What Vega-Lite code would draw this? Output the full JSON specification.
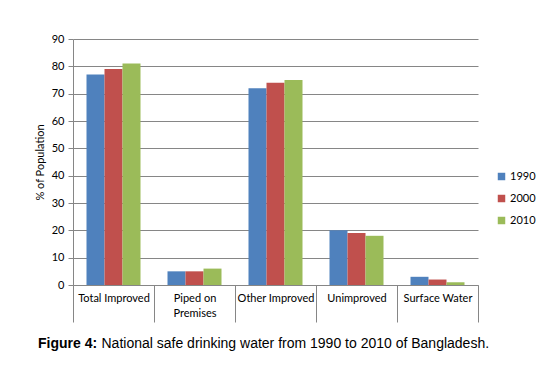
{
  "$schema": "https://vega.github.io/schema/vega-lite/v6.json",
  "autosize": "none",
  "width": 405,
  "height": 246,
  "padding": {"left": 73, "top": 39, "right": 80, "bottom": 91},
  "background": "white",
  "title": {
    "text": "Figure 4:",
    "orient": "bottom",
    "anchor": "start",
    "frame": "group",
    "font": "Liberation Sans",
    "fontSize": 14,
    "fontWeight": "bold",
    "color": "#000000",
    "baseline": "middle",
    "offset": 0,
    "dx": -35,
    "dy": -6
  },
  "data": {
    "values": [
      {"category": "Total Improved", "year": "1990", "value": 77},
      {"category": "Total Improved", "year": "2000", "value": 79},
      {"category": "Total Improved", "year": "2010", "value": 81},
      {"category": "Piped on Premises", "year": "1990", "value": 5},
      {"category": "Piped on Premises", "year": "2000", "value": 5},
      {"category": "Piped on Premises", "year": "2010", "value": 6},
      {"category": "Other Improved", "year": "1990", "value": 72},
      {"category": "Other Improved", "year": "2000", "value": 74},
      {"category": "Other Improved", "year": "2010", "value": 75},
      {"category": "Unimproved", "year": "1990", "value": 20},
      {"category": "Unimproved", "year": "2000", "value": 19},
      {"category": "Unimproved", "year": "2010", "value": 18},
      {"category": "Surface Water", "year": "1990", "value": 3},
      {"category": "Surface Water", "year": "2000", "value": 2},
      {"category": "Surface Water", "year": "2010", "value": 1}
    ]
  },
  "mark": {"type": "bar"},
  "encoding": {
    "x": {
      "field": "category",
      "type": "nominal",
      "sort": null,
      "scale": {"paddingInner": 0, "paddingOuter": 0},
      "axis": {
        "title": "National safe drinking water from 1990 to 2010 of Bangladesh.",
        "titleFont": "Liberation Sans",
        "titleFontSize": 14,
        "titleFontWeight": "normal",
        "titleColor": "#000000",
        "titleX": 28,
        "titleY": 58,
        "titleAlign": "left",
        "titleBaseline": "middle",
        "labelAngle": 0,
        "labelFont": "Lato",
        "labelFontSize": 11,
        "labelColor": "#000000",
        "labelPadding": -30,
        "labelExpr": "datum.label == 'Piped on Premises' ? ['Piped on', 'Premises'] : datum.label",
        "labelLineHeight": 15,
        "tickBand": "extent",
        "tickSize": 37,
        "tickColor": "#868686",
        "domainColor": "#868686",
        "grid": false
      }
    },
    "xOffset": {
      "field": "year",
      "type": "nominal",
      "scale": {"paddingInner": 0, "paddingOuter": 0.75}
    },
    "y": {
      "field": "value",
      "type": "quantitative",
      "scale": {"domain": [0, 90]},
      "axis": {
        "title": "% of Population",
        "titleFont": "Lato",
        "titleFontSize": 11,
        "titleFontWeight": "normal",
        "titleColor": "#000000",
        "titlePadding": 6,
        "values": [0, 10, 20, 30, 40, 50, 60, 70, 80, 90],
        "labelFont": "Lato",
        "labelFontSize": 11,
        "labelColor": "#000000",
        "labelPadding": 4,
        "tickSize": 5,
        "tickColor": "#868686",
        "domainColor": "#868686",
        "gridColor": "#868686",
        "gridWidth": 1
      }
    },
    "color": {
      "field": "year",
      "type": "nominal",
      "scale": {"domain": ["1990", "2000", "2010"], "range": ["#4F81BD", "#C0504D", "#9BBB59"]},
      "legend": {
        "title": null,
        "orient": "none",
        "legendX": 423,
        "legendY": 132,
        "padding": 0,
        "symbolType": "square",
        "symbolSize": 56,
        "symbolStrokeWidth": 0,
        "labelFont": "Lato",
        "labelFontSize": 11,
        "labelColor": "#000000",
        "labelOffset": 3,
        "rowPadding": 10
      }
    }
  },
  "config": {
    "view": {"stroke": null},
    "axis": {"domainWidth": 1, "tickWidth": 1}
  }
}
